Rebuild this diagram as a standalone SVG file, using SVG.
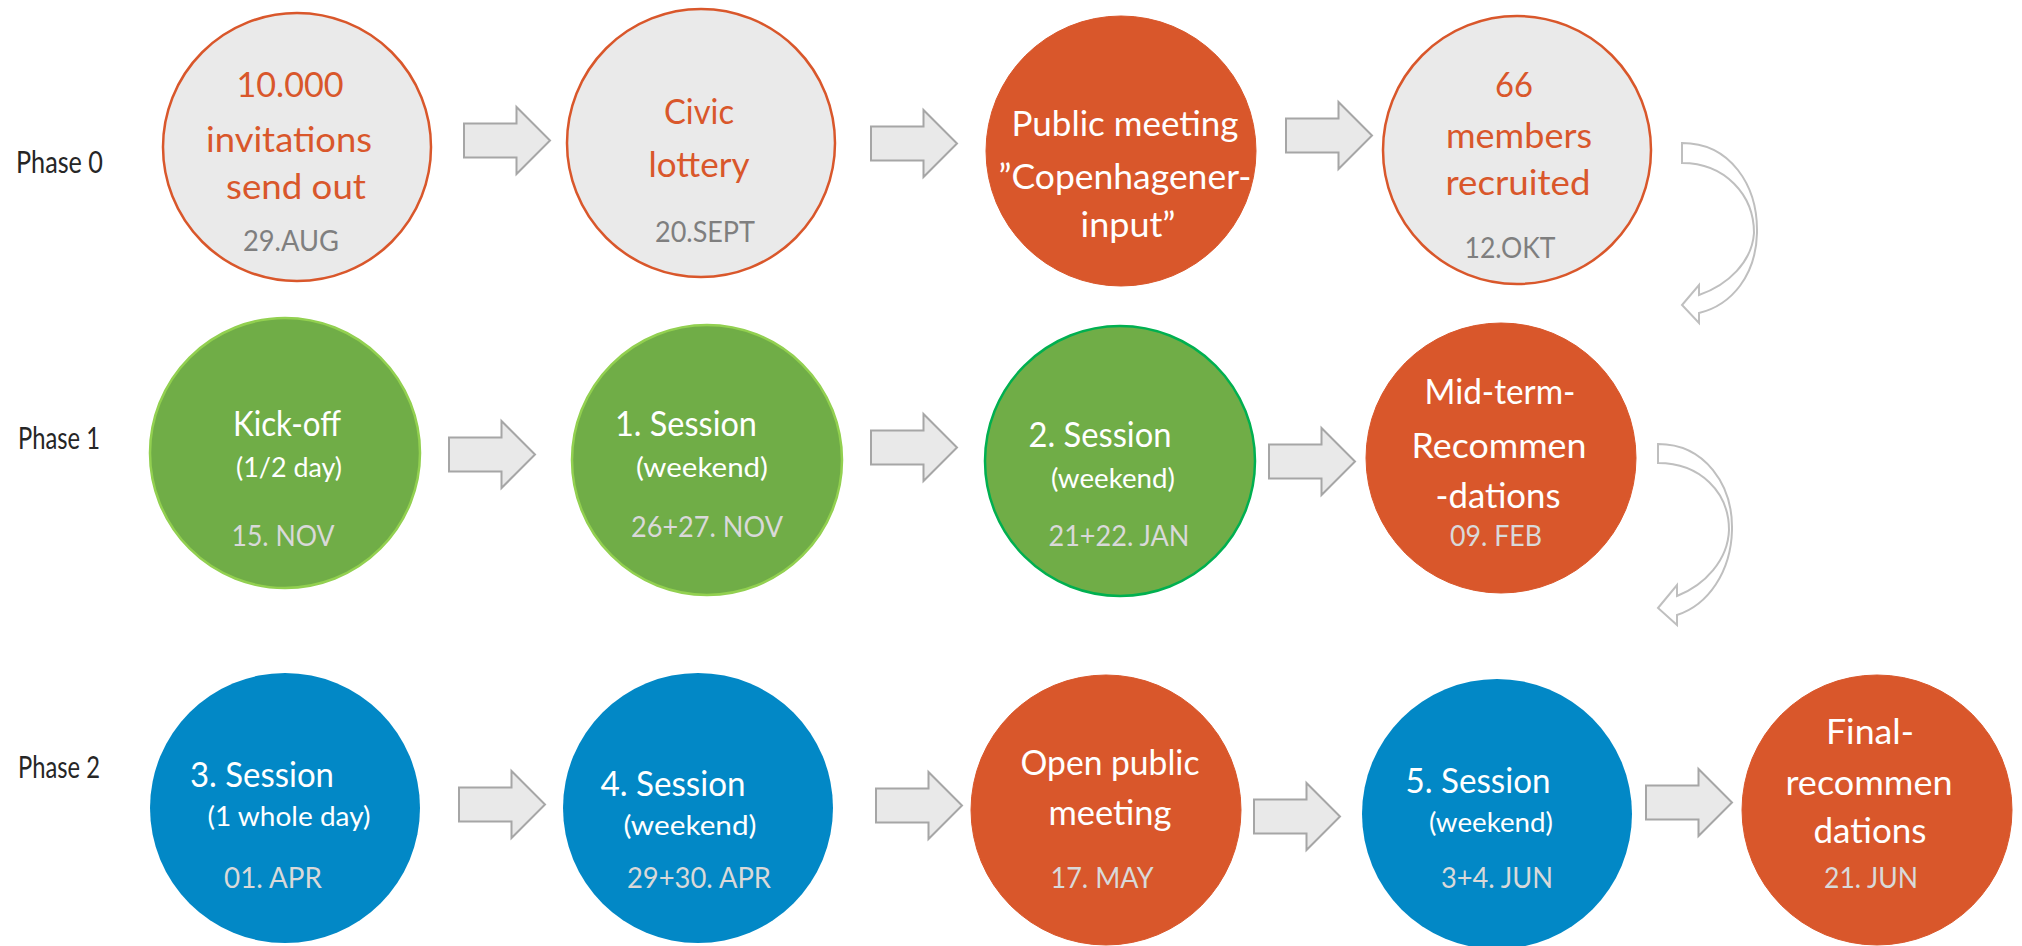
<svg xmlns="http://www.w3.org/2000/svg" xmlns:xlink="http://www.w3.org/1999/xlink" width="2022" height="946" viewBox="0 0 2022 946">
<style>
text{font-family:Lato,"Open Sans","Liberation Sans",sans-serif;text-anchor:middle}
.ph{font-size:30px;fill:#262626;text-anchor:start}
.t{font-size:34px;fill:#fff}
.to{font-size:34px;fill:#D9572B}
.s{font-size:27px;fill:#fff}
.d{font-size:28px;fill:#D9D9D9}
.dg{font-size:28px;fill:#7F7F7F}
.gray{fill:#EAEAEA;stroke:#D9572B;stroke-width:2.5}
.or{fill:#D9572B;stroke:#D9572B;stroke-width:1}
.gr{fill:#70AD47;stroke:#92D050;stroke-width:2.5}
.gr2{fill:#70AD47;stroke:#00B050;stroke-width:2.5}
.bl{fill:#0288C6}
.blk{fill:#E9E9E9;stroke:#A6A6A6;stroke-width:2}
.crv{fill:#fff;stroke:#BFBFBF;stroke-width:2}
</style>
<defs>
<path id="blk" d="M0,16.5 H52.5 V0 L86,33.5 L52.5,67 V50.5 H0 Z"/>
</defs>
<g id="labels">
<text class="ph" x="16" y="173" textLength="87" lengthAdjust="spacingAndGlyphs">Phase 0</text>
<text class="ph" x="18" y="449" textLength="82" lengthAdjust="spacingAndGlyphs">Phase 1</text>
<text class="ph" x="18" y="778" textLength="82" lengthAdjust="spacingAndGlyphs">Phase 2</text>
</g>
<g id="connectors">
<use xlink:href="#blk" class="blk" x="464" y="107"/>
<use xlink:href="#blk" class="blk" x="871" y="110"/>
<use xlink:href="#blk" class="blk" x="1286" y="102"/>
<use xlink:href="#blk" class="blk" x="449" y="421"/>
<use xlink:href="#blk" class="blk" x="871" y="414"/>
<use xlink:href="#blk" class="blk" x="1269" y="428"/>
<use xlink:href="#blk" class="blk" x="459" y="771"/>
<use xlink:href="#blk" class="blk" x="876" y="772"/>
<use xlink:href="#blk" class="blk" x="1254" y="783"/>
<use xlink:href="#blk" class="blk" x="1646" y="769"/>
<path class="crv" d="M1682,143 C1730,143 1758,185 1757,233 C1756,275 1732,305 1699,313 L1699,323 L1682,305 L1699,285 L1699,295 C1728,285 1752,262 1754,233 C1754,195 1725,163 1682,163 Z"/>
<path class="crv" d="M1658,444 C1705,444 1733,485 1732,530 C1731,572 1708,605 1677,615 L1677,625 L1658,608 L1677,585 L1677,596 C1705,585 1728,560 1729,530 C1729,492 1700,463 1658,463 Z"/>
</g>
<g id="n1">
<circle class="gray" cx="297" cy="147" r="134"/>
<text class="to" x="290" y="97" textLength="107" lengthAdjust="spacingAndGlyphs">10.000</text>
<text class="to" x="289" y="152" textLength="166" lengthAdjust="spacingAndGlyphs">invitations</text>
<text class="to" x="296" y="199" textLength="140" lengthAdjust="spacingAndGlyphs">send out</text>
<text class="dg" x="291" y="251" textLength="96" lengthAdjust="spacingAndGlyphs">29.AUG</text>
</g>
<g id="n2">
<circle class="gray" cx="701" cy="143" r="134"/>
<text class="to" x="699" y="124" textLength="70" lengthAdjust="spacingAndGlyphs">Civic</text>
<text class="to" x="699" y="177" textLength="101" lengthAdjust="spacingAndGlyphs">lottery</text>
<text class="dg" x="705" y="242" textLength="100" lengthAdjust="spacingAndGlyphs">20.SEPT</text>
</g>
<g id="n3">
<circle class="or" cx="1121" cy="151" r="135"/>
<text class="t" x="1125" y="136" textLength="227" lengthAdjust="spacingAndGlyphs">Public meeting</text>
<text class="t" x="1125" y="189" textLength="253" lengthAdjust="spacingAndGlyphs">”Copenhagener-</text>
<text class="t" x="1128" y="237" textLength="95" lengthAdjust="spacingAndGlyphs">input”</text>
</g>
<g id="n4">
<circle class="gray" cx="1517" cy="150" r="134"/>
<text class="to" x="1514" y="97" textLength="38" lengthAdjust="spacingAndGlyphs">66</text>
<text class="to" x="1519" y="148" textLength="146" lengthAdjust="spacingAndGlyphs">members</text>
<text class="to" x="1518" y="195" textLength="145" lengthAdjust="spacingAndGlyphs">recruited</text>
<text class="dg" x="1510" y="258" textLength="91" lengthAdjust="spacingAndGlyphs">12.OKT</text>
</g>
<g id="n5">
<circle class="gr" cx="285" cy="453" r="135"/>
<text class="t" x="287" y="436" textLength="108" lengthAdjust="spacingAndGlyphs">Kick-off</text>
<text class="s" x="289" y="477" textLength="106" lengthAdjust="spacingAndGlyphs">(1/2 day)</text>
<text class="d" x="283" y="546" textLength="103" lengthAdjust="spacingAndGlyphs">15. NOV</text>
</g>
<g id="n6">
<circle class="gr" cx="707" cy="460" r="135"/>
<text class="t" x="686" y="436" textLength="142" lengthAdjust="spacingAndGlyphs">1. Session</text>
<text class="s" x="702" y="477" textLength="132" lengthAdjust="spacingAndGlyphs">(weekend)</text>
<text class="d" x="707" y="537" textLength="152" lengthAdjust="spacingAndGlyphs">26+27. NOV</text>
</g>
<g id="n7">
<circle class="gr2" cx="1120" cy="461" r="135"/>
<text class="t" x="1100" y="447" textLength="143" lengthAdjust="spacingAndGlyphs">2. Session</text>
<text class="s" x="1113" y="488" textLength="124" lengthAdjust="spacingAndGlyphs">(weekend)</text>
<text class="d" x="1119" y="546" textLength="141" lengthAdjust="spacingAndGlyphs">21+22. JAN</text>
</g>
<g id="n8">
<circle class="or" cx="1501" cy="458" r="135"/>
<text class="t" x="1500" y="404" textLength="151" lengthAdjust="spacingAndGlyphs">Mid-term-</text>
<text class="t" x="1499" y="458" textLength="175" lengthAdjust="spacingAndGlyphs">Recommen</text>
<text class="t" x="1498" y="508" textLength="125" lengthAdjust="spacingAndGlyphs">-dations</text>
<text class="d" x="1496" y="546" textLength="92" lengthAdjust="spacingAndGlyphs">09. FEB</text>
</g>
<g id="n9">
<circle class="bl" cx="285" cy="808" r="135"/>
<text class="t" x="262" y="787" textLength="144" lengthAdjust="spacingAndGlyphs">3. Session</text>
<text class="s" x="289" y="826" textLength="163" lengthAdjust="spacingAndGlyphs">(1 whole day)</text>
<text class="d" x="273" y="888" textLength="98" lengthAdjust="spacingAndGlyphs">01. APR</text>
</g>
<g id="n10">
<circle class="bl" cx="698" cy="808" r="135"/>
<text class="t" x="673" y="796" textLength="145" lengthAdjust="spacingAndGlyphs">4. Session</text>
<text class="s" x="690" y="835" textLength="133" lengthAdjust="spacingAndGlyphs">(weekend)</text>
<text class="d" x="699" y="888" textLength="144" lengthAdjust="spacingAndGlyphs">29+30. APR</text>
</g>
<g id="n11">
<circle class="or" cx="1106" cy="810" r="135"/>
<text class="t" x="1110" y="775" textLength="179" lengthAdjust="spacingAndGlyphs">Open public</text>
<text class="t" x="1110" y="825" textLength="123" lengthAdjust="spacingAndGlyphs">meeting</text>
<text class="d" x="1102" y="888" textLength="103" lengthAdjust="spacingAndGlyphs">17. MAY</text>
</g>
<g id="n12">
<circle class="bl" cx="1497" cy="814" r="135"/>
<text class="t" x="1478" y="793" textLength="145" lengthAdjust="spacingAndGlyphs">5. Session</text>
<text class="s" x="1491" y="832" textLength="124" lengthAdjust="spacingAndGlyphs">(weekend)</text>
<text class="d" x="1497" y="888" textLength="112" lengthAdjust="spacingAndGlyphs">3+4. JUN</text>
</g>
<g id="n13">
<circle class="or" cx="1877" cy="810" r="135"/>
<text class="t" x="1870" y="744" textLength="88" lengthAdjust="spacingAndGlyphs">Final-</text>
<text class="t" x="1869" y="795" textLength="167" lengthAdjust="spacingAndGlyphs">recommen</text>
<text class="t" x="1870" y="843" textLength="113" lengthAdjust="spacingAndGlyphs">dations</text>
<text class="d" x="1871" y="888" textLength="94" lengthAdjust="spacingAndGlyphs">21. JUN</text>
</g>
</svg>
